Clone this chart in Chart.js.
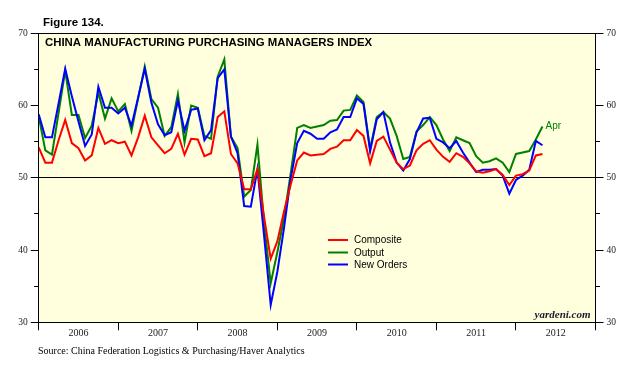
<!DOCTYPE html>
<html><head><meta charset="utf-8">
<script src="https://cdn.jsdelivr.net/npm/chart.js@4"></script>
<style>html,body{margin:0;padding:0;background:#fff;}canvas{display:block;}</style>
</head><body>
<canvas id="c" width="638" height="380"></canvas>
<script>
// Monthly, Dec 2005 .. Apr 2012 (index 0 = first month shown at left edge)
const years = ['2006','2007','2008','2009','2010','2011','2012'];
const seriesNames = ['Composite','Output','New Orders'];
const lastMonthLabel = 'Apr';
const composite = [54.2,52.1,52.1,55.2,58.0,54.8,54.1,52.4,53.1,56.9,54.7,55.2,54.8,
  55.0,53.1,55.6,58.6,55.6,54.5,53.4,54.0,56.1,53.2,55.4,55.3,
  53.0,53.4,58.4,59.2,53.3,52.0,48.4,48.4,51.2,44.6,38.8,41.2,
  45.3,49.0,52.4,53.5,53.1,53.2,53.3,54.0,54.3,55.2,55.2,56.6,
  55.8,52.0,55.1,55.7,53.9,52.1,51.2,51.7,53.8,54.7,55.2,53.9,
  52.9,52.2,53.4,52.9,52.0,50.9,50.7,50.9,51.2,50.4,49.0,50.3,
  50.5,51.0,53.1,53.3];
const output = [58.5,53.8,53.2,59.0,64.8,58.7,58.7,55.5,57.2,61.8,58.2,61.0,59.2,
  60.2,56.5,61.0,65.4,60.9,59.7,55.8,57.0,61.6,54.9,60.0,59.7,
  55.8,55.4,64.0,66.4,55.7,54.1,47.4,48.3,54.6,43.8,35.4,39.7,
  44.4,50.5,56.9,57.3,56.9,57.1,57.3,57.9,58.0,59.3,59.4,61.4,
  60.5,54.0,58.4,59.1,58.2,55.8,52.6,52.9,56.4,57.3,58.4,57.3,
  55.3,53.7,55.6,55.2,54.8,53.0,52.1,52.3,52.7,52.1,50.8,53.3,
  53.5,53.7,55.3,57.1];
const newOrders = [58.8,55.6,55.6,60.3,65.1,61.3,57.8,54.4,56.0,62.6,59.7,59.7,58.9,
  59.7,57.2,61.1,65.1,60.4,57.4,55.9,56.3,60.7,56.5,59.4,59.6,
  55.2,56.6,63.8,65.0,55.7,53.4,46.1,46.0,51.2,42.0,32.4,37.0,
  43.0,49.8,54.8,56.5,56.1,55.4,55.4,56.3,56.7,58.4,58.4,61.0,
  60.2,53.7,58.1,59.1,54.9,52.1,51.0,52.6,56.3,58.2,58.3,55.4,
  54.9,54.1,55.1,53.5,52.1,50.8,51.1,51.1,51.2,50.3,47.8,49.7,
  50.3,51.1,55.1,54.5];

const colors = ['#FF0000','#008000','#0000FF'];
const toXY = arr => arr.map((v,i)=>({x:i,y:v}));

const TRANSP = 'rgba(0,0,0,0)';
const serifTick = {family:'Liberation Serif', size:9.5};

const deco = {
  id:'deco',
  beforeDraw(chart){
    const {ctx, chartArea:a} = chart;
    ctx.save();
    ctx.fillStyle = '#FFFFDD';
    ctx.fillRect(a.left, a.top, a.right-a.left, a.bottom-a.top);
    ctx.restore();
  },
  afterDraw(chart){
    const {ctx, chartArea:a, scales} = chart;
    ctx.save();
    ctx.fillStyle = '#000';
    ctx.textBaseline = 'alphabetic';
    ctx.font = 'bold 11.5px "Liberation Sans", Arial, sans-serif';
    ctx.fillText('Figure 134.', 43, 26);
    ctx.font = 'bold 11.4px "Liberation Sans", Arial, sans-serif';
    ctx.fillText('CHINA MANUFACTURING PURCHASING MANAGERS INDEX', 45, 46);
    // legend
    const lx = 328, ly = [240, 252.5, 264.5];
    ctx.font = '10px "Liberation Sans", Arial, sans-serif';
    ctx.textBaseline = 'middle';
    seriesNames.forEach((n,i)=>{
      ctx.strokeStyle = colors[i];
      ctx.lineWidth = 2;
      ctx.beginPath(); ctx.moveTo(lx, ly[i]); ctx.lineTo(lx+20, ly[i]); ctx.stroke();
      ctx.fillStyle = '#000';
      ctx.fillText(n, lx+26, ly[i]+0.5);
    });
    // Apr label at end of output series
    const li = output.length-1;
    const px = scales.x.getPixelForValue(li), py = scales.y.getPixelForValue(output[li]);
    ctx.fillStyle = colors[1];
    ctx.font = '10px "Liberation Sans", Arial, sans-serif';
    ctx.fillText(lastMonthLabel, px+3, py);
    // watermark
    ctx.fillStyle = '#1a1a2e';
    ctx.textBaseline = 'alphabetic';
    ctx.textAlign = 'right';
    ctx.font = 'italic bold 11px "Liberation Serif", serif';
    ctx.fillText('yardeni.com', a.right-5, a.bottom-4);
    ctx.textAlign = 'left';
    ctx.fillStyle = '#000';
    ctx.font = '10px "Liberation Serif", serif';
    ctx.fillText('Source: China Federation Logistics & Purchasing/Haver Analytics', 38, 354);
    ctx.restore();
  }
};

const yTicksCb = v => (v % 10 === 0 ? String(v) : '');
const isMinor = ctx => ctx.tick && ctx.tick.value % 10 !== 0;

new Chart(document.getElementById('c'), {
  type:'line',
  data:{
    datasets:[
      {label:seriesNames[0], data:toXY(composite), borderColor:colors[0], borderWidth:2, pointRadius:0, order:1},
      {label:seriesNames[1], data:toXY(output), borderColor:colors[1], borderWidth:2, pointRadius:0, order:3},
      {label:seriesNames[2], data:toXY(newOrders), borderColor:colors[2], borderWidth:2, pointRadius:0, order:2}
    ]
  },
  options:{
    responsive:false,
    devicePixelRatio:1,
    animation:false,
    layout:{padding:{top:33.3,left:0,right:0,bottom:0}},
    plugins:{legend:{display:false}, tooltip:{enabled:false}},
    elements:{line:{tension:0, borderJoinStyle:'miter'}},
    scales:{
      x:{
        type:'linear', min:0, max:84, position:'bottom',
        afterBuildTicks: s => { const t=[]; for(let v=0; v<=84; v+=6) t.push({value:v}); s.ticks=t; },
        afterFit: s => { s.height = 57.7; },
        ticks:{autoSkip:false, maxRotation:0, padding:-3, color:'#222',
          font:{family:'Liberation Serif', size:10},
          callback: v => (v % 12 === 6 ? years[(v-6)/12] : '')},
        grid:{drawOnChartArea:false, tickLength:8,
          tickColor: c => (c.tick && c.tick.value % 12 === 0 ? '#000' : TRANSP)},
        border:{color:'#000', width:1}
      },
      y:{
        position:'left', min:30, max:70,
        afterFit: s => { s.width = 38.7; },
        ticks:{stepSize:5, padding:3, color:'#222', font:serifTick, callback:yTicksCb},
        grid:{drawOnChartArea:true, tickLength:8, tickColor:'#000',
          color: c => (c.tick && (c.tick.value===50 || c.tick.value===70) ? '#000' : TRANSP),
          tickBorderDash: c => (isMinor(c) ? [0,3.5,4,100] : [])},
        border:{color:'#000', width:1}
      },
      y2:{
        position:'right', min:30, max:70,
        afterFit: s => { s.width = 42.5; },
        ticks:{stepSize:5, padding:3, color:'#222', font:serifTick, callback:yTicksCb},
        grid:{drawOnChartArea:false, tickLength:8, tickColor:'#000',
          tickBorderDash: c => (isMinor(c) ? [4,100] : [])},
        border:{color:'#000', width:1}
      }
    }
  },
  plugins:[deco]
});
</script>
</body></html>
